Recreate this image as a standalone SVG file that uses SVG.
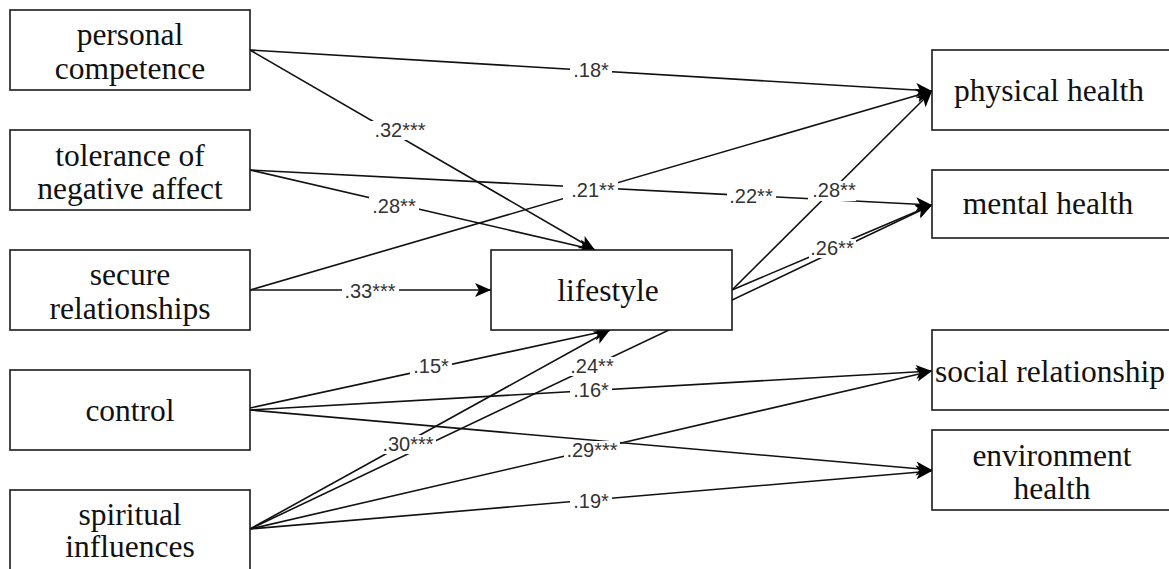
<svg xmlns="http://www.w3.org/2000/svg" width="1169" height="569" viewBox="0 0 1169 569">
<style>
.box{fill:#fff;stroke:#1a1a1a;stroke-width:1.6}
.nt{font-family:"Liberation Serif","Times New Roman",serif;font-size:31.5px;fill:#111;text-anchor:middle}
.edge{fill:none;stroke:#111;stroke-width:1.6;marker-end:url(#arr)}
.lbg{fill:#fff;stroke:none}
.lt{font-family:"Liberation Sans",Arial,sans-serif;font-size:20px;fill:#333;text-anchor:middle}
</style>
<defs>
<marker id="arr" markerUnits="userSpaceOnUse" markerWidth="17" markerHeight="15" refX="16" refY="7" orient="auto" overflow="visible">
<path d="M0,0 L16,7 L0,14 L4,7 Z" fill="#000"/>
</marker>
</defs>
<g id="connectors">
<path class="edge" d="M250,50 L932,91"/>
<path class="edge" d="M250,50 L595,250"/>
<path class="edge" d="M250,170 L595,250"/>
<path class="edge" d="M250,170 L932,205"/>
<path class="edge" d="M250,290 L491,290"/>
<path class="edge" d="M250,290 L932,91"/>
<path class="edge" d="M732,290 L932,91"/>
<path class="edge" d="M732,290 L932,205"/>
<path class="edge" d="M250,408 L610,330"/>
<path class="edge" d="M250,410 L932,371"/>
<path class="edge" d="M250,410 L932,470"/>
<path class="edge" d="M250,529 L610,330"/>
<path class="edge" d="M250,529 L932,205"/>
<path class="edge" d="M250,529 L932,371"/>
<path class="edge" d="M250,529 L932,471"/>
<g id="labels">
<rect class="lbg" x="570" y="61" width="42" height="19"/><text class="lt" x="591" y="77">.18*</text>
<rect class="lbg" x="370" y="121" width="60" height="19"/><text class="lt" x="400" y="137">.32***</text>
<rect class="lbg" x="369" y="197" width="50" height="19"/><text class="lt" x="394" y="213">.28**</text>
<rect class="lbg" x="563" y="181" width="55" height="19"/><text class="lt" x="593" y="197">.21**</text>
<rect class="lbg" x="727" y="187" width="49" height="19"/><text class="lt" x="751" y="203">.22**</text>
<rect class="lbg" x="808" y="181" width="48" height="20"/><text class="lt" x="834" y="197">.28**</text>
<rect class="lbg" x="809" y="239" width="47" height="19"/><text class="lt" x="832" y="255">.26**</text>
<rect class="lbg" x="342" y="282" width="57" height="19"/><text class="lt" x="370" y="298">.33***</text>
<rect class="lbg" x="410" y="357" width="42" height="19"/><text class="lt" x="431" y="373">.15*</text>
<rect class="lbg" x="569" y="357" width="47" height="19"/><text class="lt" x="592" y="373">.24**</text>
<rect class="lbg" x="570" y="381" width="42" height="19"/><text class="lt" x="591" y="397">.16*</text>
<rect class="lbg" x="379" y="435" width="57" height="19"/><text class="lt" x="408" y="451">.30***</text>
<rect class="lbg" x="564" y="441" width="56" height="19"/><text class="lt" x="592" y="457">.29***</text>
<rect class="lbg" x="570" y="492" width="42" height="19"/><text class="lt" x="591" y="508">.19*</text>
</g>
</g>
<g id="nodes">
<g id="personal-competence">
<rect class="box" x="10" y="10" width="240" height="80"/>
<text class="nt" x="130" y="45">personal</text>
<text class="nt" x="130" y="79">competence</text>
</g>
<g id="tolerance-of-negative-affect">
<rect class="box" x="10" y="130" width="240" height="80"/>
<text class="nt" x="130" y="166">tolerance of</text>
<text class="nt" x="130" y="199">negative affect</text>
</g>
<g id="secure-relationships">
<rect class="box" x="10" y="250" width="240" height="80"/>
<text class="nt" x="130" y="285">secure</text>
<text class="nt" x="130" y="319">relationships</text>
</g>
<g id="control">
<rect class="box" x="10" y="370" width="240" height="80"/>
<text class="nt" x="130" y="421">control</text>
</g>
<g id="spiritual-influences">
<rect class="box" x="10" y="490" width="240" height="82"/>
<text class="nt" x="130" y="525">spiritual</text>
<text class="nt" x="130" y="557">influences</text>
</g>
<g id="lifestyle">
<rect class="box" x="491" y="250" width="241" height="80"/>
<text class="nt" x="608" y="301">lifestyle</text>
</g>
<g id="physical-health">
<rect class="box" x="932" y="50" width="240" height="80"/>
<text class="nt" x="1049" y="101">physical health</text>
</g>
<g id="mental-health">
<rect class="box" x="932" y="170" width="240" height="68"/>
<text class="nt" x="1048" y="214">mental health</text>
</g>
<g id="social-relationship">
<rect class="box" x="932" y="330" width="240" height="80"/>
<text class="nt" x="1050" y="382">social relationship</text>
</g>
<g id="environment-health">
<rect class="box" x="932" y="430" width="240" height="80"/>
<text class="nt" x="1052" y="466">environment</text>
<text class="nt" x="1052" y="499">health</text>
</g>
</g>
</svg>
